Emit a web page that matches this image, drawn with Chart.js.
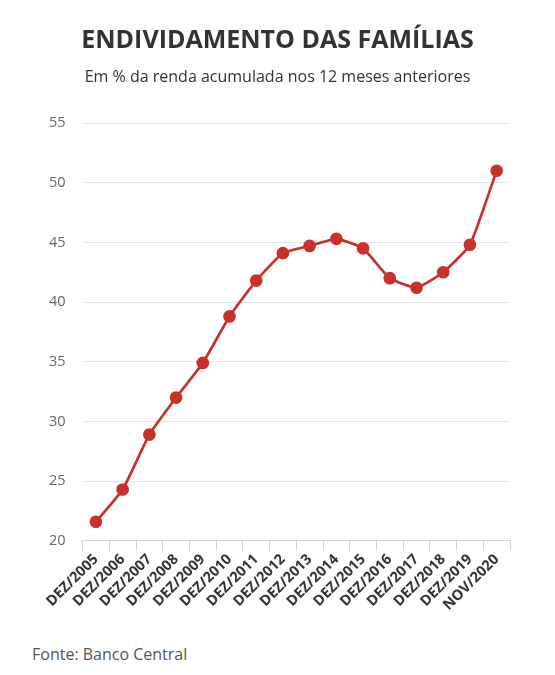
<!DOCTYPE html>
<html>
<head>
<meta charset="utf-8">
<script src="https://cdn.jsdelivr.net/npm/chart.js@4/dist/chart.umd.min.js"></script>
<style>
  html, body { margin: 0; padding: 0; background: #fff; }
  #wrap { position: relative; width: 555px; height: 675px; font-family: "Open Sans", sans-serif; }
  #wrap canvas { position: absolute; left: 0; top: 0; }
  .titulo { position: absolute; left: 0; width: 555px; text-align: center; color: #333; }
  #t1 { top: 26px; font-size: 25px; line-height: 25px; font-weight: bold; }
  #t2 { top: 68px; font-size: 16px; line-height: 16px; }
  #fonte { position: absolute; left: 32px; top: 643px; font-size: 16px; color: #555; }
</style>
</head>
<body>
<div id="wrap">
  <canvas id="divida" width="555" height="614"></canvas>
  <div class="titulo" id="t1">ENDIVIDAMENTO DAS FAMÍLIAS</div>
  <div class="titulo" id="t2">Em % da renda acumulada nos 12 meses anteriores</div>
  <div id="fonte">Fonte: Banco Central</div>
</div>
<script>
// endividamento das familias, % da renda
const labels = ["DEZ/2005", "DEZ/2006", "DEZ/2007", "DEZ/2008", "DEZ/2009", "DEZ/2010", "DEZ/2011", "DEZ/2012",
  "DEZ/2013", "DEZ/2014", "DEZ/2015", "DEZ/2016", "DEZ/2017", "DEZ/2018", "DEZ/2019", "NOV/2020"];
const valores = [21.6, 24.3, 28.9, 32.0, 34.9, 38.8, 41.8, 44.1, 44.7, 45.3, 44.5, 42.0, 41.2, 42.5, 44.8, 51.0];
const yMin = 20, yMax = 55, yStep = 5;

window.onload = function () {
  let ctx = document.querySelector("#divida").getContext('2d');
  new Chart(ctx, {
    type: 'line',
    data: {
      labels: labels,
      datasets: [{
        data: valores,
        borderColor: "#c9312b",
        backgroundColor: "#c9312b",
        borderWidth: 2.7,
        pointRadius: 5,
        pointHoverRadius: 5,
        tension: 0.15
      }]
    },
    options: {
      responsive: false,
      animation: false,
      layout: { padding: { left: 32, right: 45, top: 123, bottom: 0 } },
      plugins: {
        legend: { display: false },
        tooltip: { enabled: false }
      },
      scales: {
        x: {
          offset: true,
          grid: { drawOnChartArea: false, offset: true, tickLength: 10, color: "#ccd6eb", lineWidth: 1 },
          border: { color: "#ccd6eb" },
          ticks: {
            autoSkip: false,
            color: "#333",
            font: { family: "Open Sans", size: 14.5, weight: "bold" },
            maxRotation: 45, minRotation: 45,
            padding: 0
          }
        },
        y: {
          min: yMin, max: yMax,
          ticks: {
            stepSize: yStep,
            color: "#666",
            font: { family: "Open Sans", size: 14.5 },
            padding: 17
          },
          grid: { color: "#e6e6e6", drawTicks: false },
          border: { display: false }
        }
      }
    }
  });
}
</script>
</body>
</html>
